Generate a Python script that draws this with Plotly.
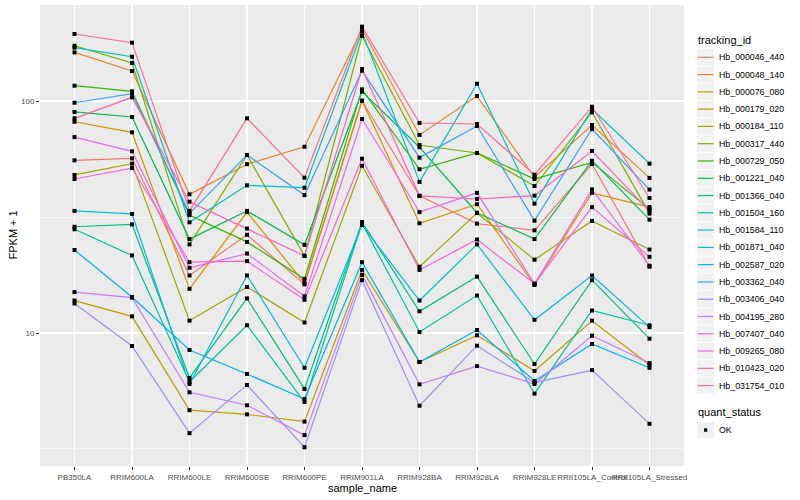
import plotly.graph_objects as go

samples = ["PB350LA", "RRIM600LA", "RRIM600LE", "RRIM600SE", "RRIM600PE", "RRIM901LA",
           "RRIM928BA", "RRIM928LA", "RRIM928LE", "RRII105LA_Control", "RRII105LA_Stressed"]

tracking_ids = ["Hb_000046_440", "Hb_000048_140", "Hb_000076_080", "Hb_000179_020",
                "Hb_000184_110", "Hb_000317_440", "Hb_000729_050", "Hb_001221_040",
                "Hb_001366_040", "Hb_001504_160", "Hb_001584_110", "Hb_001871_040",
                "Hb_002587_020", "Hb_003362_040", "Hb_003406_040", "Hb_004195_280",
                "Hb_007407_040", "Hb_009265_080", "Hb_010423_020", "Hb_031754_010"]

colors = ["#F8766D", "#EA8331", "#D89000", "#C09B00", "#A3A500", "#7CAE00", "#39B600",
          "#00BB4E", "#00BF7D", "#00C1A3", "#00BFC4", "#00BAE0", "#00B0F6", "#35A2FF",
          "#9590FF", "#C77CFF", "#E76BF3", "#FA62DB", "#FF62BC", "#FF6C91"]

# FPKM + 1 per sample, one list per tracking_id
hb_000046_440 = [55.5, 56.6, 17.7, 26.5, 16.2, 100.3, 39.0, 29.6, 27.7, 53.5, 19.3]
hb_000048_140 = [162.0, 134.7, 39.6, 53.4, 63.5, 204.0, 71.4, 105.0, 47.0, 78.8, 46.6]
hb_000076_080 = [81.4, 73.3, 15.5, 33.2, 16.4, 100.3, 29.7, 35.9, 16.1, 40.2, 34.9]
hb_000179_020 = [13.8, 11.8, 4.65, 4.46, 4.15, 18.7, 7.50, 9.77, 6.86, 11.3, 7.28]
hb_000184_110 = [48.0, 53.7, 11.3, 15.8, 11.1, 52.6, 19.3, 32.9, 20.7, 30.4, 22.9]
hb_000317_440 = [173.1, 145.8, 24.1, 58.5, 21.5, 190.6, 64.6, 59.7, 43.0, 89.4, 32.7]
hb_000729_050 = [116.4, 110.1, 32.2, 24.7, 17.1, 112.3, 50.8, 59.7, 46.1, 54.4, 34.2]
hb_001221_040 = [89.7, 85.3, 25.4, 33.6, 24.0, 109.7, 63.2, 33.0, 25.4, 55.3, 30.8]
hb_001366_040 = [28.7, 29.4, 6.40, 14.1, 5.74, 30.1, 12.4, 17.5, 7.35, 16.9, 9.45]
hb_001504_160 = [28.0, 21.6, 6.15, 10.8, 5.04, 29.7, 10.1, 14.5, 5.48, 12.5, 10.8]
hb_001584_110 = [169.7, 155.2, 30.0, 43.3, 42.3, 198.9, 44.8, 118.7, 36.1, 92.4, 53.7]
hb_001871_040 = [33.6, 32.6, 6.03, 17.7, 7.08, 29.2, 13.8, 24.1, 11.4, 17.7, 10.6]
hb_002587_020 = [22.8, 14.3, 8.45, 6.66, 5.19, 20.2, 7.50, 10.3, 6.21, 8.97, 7.08]
hb_003362_040 = [98.3, 107.5, 32.8, 58.5, 39.3, 135.1, 57.0, 78.0, 30.5, 75.7, 41.5]
hb_003406_040 = [13.4, 8.79, 3.70, 5.97, 3.22, 16.9, 4.86, 8.82, 6.11, 6.92, 4.06]
hb_004195_280 = [15.0, 14.2, 5.55, 4.88, 3.63, 17.8, 6.01, 7.20, 6.03, 9.73, 7.42]
hb_007407_040 = [69.9, 60.7, 19.1, 22.0, 14.4, 83.6, 33.2, 40.2, 16.3, 41.6, 19.5]
hb_009265_080 = [46.1, 51.4, 20.2, 20.4, 13.9, 56.4, 18.7, 25.3, 16.3, 34.9, 21.3]
hb_010423_020 = [84.2, 103.7, 36.8, 28.2, 21.5, 137.4, 39.0, 37.8, 39.1, 60.9, 33.6]
hb_031754_010 = [194.5, 178.4, 33.6, 84.2, 46.7, 209.1, 80.4, 79.6, 48.1, 94.5, 38.2]

series = [hb_000046_440, hb_000048_140, hb_000076_080, hb_000179_020, hb_000184_110,
          hb_000317_440, hb_000729_050, hb_001221_040, hb_001366_040, hb_001504_160,
          hb_001584_110, hb_001871_040, hb_002587_020, hb_003362_040, hb_003406_040,
          hb_004195_280, hb_007407_040, hb_009265_080, hb_010423_020, hb_031754_010]

y_ticks = [10, 100]
y_minor = [10 ** 0.5, 10 ** 1.5]

FONT = "Liberation Sans, Arial, sans-serif"
W, H = 800, 500
ML, MR, MT, MB = 40, 116, 5, 34
PW, PH = W - ML - MR, H - MT - MB


def px(x):
    return (x - ML) / PW


def py(y):
    return (H - MB - y) / PH


fig = go.Figure()
for tid, col, vals in zip(tracking_ids, colors, series):
    fig.add_trace(go.Scatter(x=samples, y=vals, mode="lines", name=tid,
                             line=dict(color=col, width=1.2), showlegend=False,
                             hoverinfo="skip"))

all_x = [s for vals in series for s in samples]
all_y = [v for vals in series for v in vals]
fig.add_trace(go.Scatter(x=all_x, y=all_y, mode="markers", name="OK",
                         marker=dict(symbol="square", size=4, color="black"),
                         showlegend=False, hoverinfo="skip"))

fig.update_layout(
    width=W, height=H, autosize=False,
    margin=dict(l=ML, r=MR, t=MT, b=MB, pad=0),
    plot_bgcolor="#EBEBEB", paper_bgcolor="white",
    font=dict(family=FONT, color="black"),
    showlegend=False,
)
fig.update_xaxes(type="category", categoryorder="array", categoryarray=samples,
                 range=[-0.6, len(samples) - 0.4], showgrid=True, gridcolor="white",
                 gridwidth=1.1, ticks="outside", ticklen=3, tickwidth=1,
                 tickcolor="#333333", tickangle=0, zeroline=False, showline=False,
                 tickfont=dict(family=FONT, size=8, color="#4D4D4D"))
fig.update_yaxes(type="log", range=[0.4267, 2.4138], tickvals=y_ticks,
                 ticktext=[str(t) for t in y_ticks], showgrid=True, gridcolor="white",
                 gridwidth=1.1, ticks="outside", ticklen=3, tickwidth=1,
                 tickcolor="#333333", zeroline=False, showline=False,
                 tickfont=dict(family=FONT, size=8, color="#4D4D4D"),
                 minor=dict(tickvals=y_minor, showgrid=True, gridcolor="white",
                            gridwidth=0.55, ticks=""))

annotations = [
    dict(text="sample_name", x=0.5, y=py(488), xref="paper", yref="paper",
         xanchor="center", yanchor="middle", showarrow=False,
         font=dict(family=FONT, size=11, color="black")),
    dict(text="FPKM + 1", x=px(12), y=0.5, xref="paper", yref="paper",
         xanchor="center", yanchor="middle", showarrow=False, textangle=-90,
         font=dict(family=FONT, size=11, color="black")),
    dict(text="tracking_id", x=px(696), y=py(40), xref="paper", yref="paper",
         xanchor="left", yanchor="middle", showarrow=False,
         font=dict(family=FONT, size=11, color="black")),
    dict(text="quant_status", x=px(696), y=py(412), xref="paper", yref="paper",
         xanchor="left", yanchor="middle", showarrow=False,
         font=dict(family=FONT, size=11, color="black")),
]
shapes = []
KEY_X0, KEY_X1, KEY_H = 697, 714.3, 17.28
for i, (tid, col) in enumerate(zip(tracking_ids, colors)):
    cy = 57.3 + KEY_H * i
    shapes.append(dict(type="rect", xref="paper", yref="paper",
                       x0=px(KEY_X0), x1=px(KEY_X1), y0=py(cy - KEY_H / 2 + 0.5),
                       y1=py(cy + KEY_H / 2 - 0.5), fillcolor="#F2F2F2", line_width=0))
    shapes.append(dict(type="line", xref="paper", yref="paper",
                       x0=px(KEY_X0 + 0.8), x1=px(KEY_X1 - 0.8), y0=py(cy), y1=py(cy),
                       line=dict(color=col, width=1.2)))
    annotations.append(dict(text=tid, x=px(717), y=py(cy), xref="paper", yref="paper",
                            xanchor="left", yanchor="middle", showarrow=False,
                            font=dict(family=FONT, size=8.8, color="black")))
ok_y = 430
shapes.append(dict(type="rect", xref="paper", yref="paper", x0=px(KEY_X0), x1=px(KEY_X1),
                   y0=py(ok_y - KEY_H / 2 + 0.5), y1=py(ok_y + KEY_H / 2 - 0.5),
                   fillcolor="#F2F2F2", line_width=0))
shapes.append(dict(type="rect", xref="paper", yref="paper", x0=px(704), x1=px(707.3),
                   y0=py(ok_y - 1.7), y1=py(ok_y + 1.7), fillcolor="black", line_width=0))
annotations.append(dict(text="OK", x=px(717), y=py(ok_y), xref="paper", yref="paper",
                        xanchor="left", yanchor="middle", showarrow=False,
                        font=dict(family=FONT, size=8.8, color="black")))

fig.update_layout(annotations=annotations, shapes=shapes)
fig.write_html("out.html",
               config={"displayModeBar": False, "staticPlot": True},
               post_script="document.body.style.margin='0px';"
                           "document.body.style.overflow='hidden';")
